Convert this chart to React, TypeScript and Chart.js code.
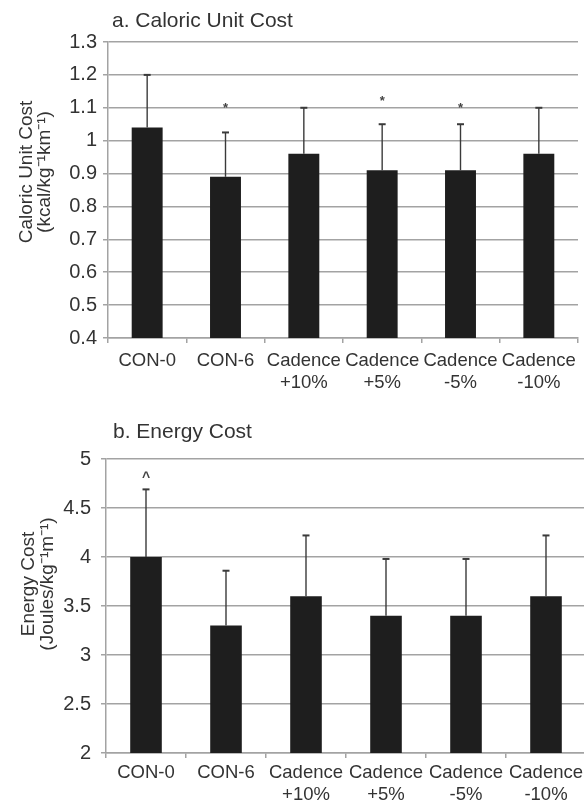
import React, { useEffect, useRef } from 'react';
import { Chart, registerables } from 'chart.js';

Chart.register(...registerables);

// ---- data ----
const categories: (string | string[])[] = ['CON-0', 'CON-6', ['Cadence', '+10%'], ['Cadence', '+5%'], ['Cadence', '-5%'], ['Cadence', '-10%']];

const caloricMeans = [1.04, 0.89, 0.96, 0.91, 0.91, 0.96];
const caloricSD = [0.16, 0.135, 0.14, 0.14, 0.14, 0.14];
const caloricMarks = [null, '*', null, '*', '*', null];
const caloricMarkY = [null, 1.11, null, 1.13, 1.11, null];
const caloricTicks = { min: 0.4, max: 1.3, step: 0.1 };

const energyMeans = [4.0, 3.3, 3.6, 3.4, 3.4, 3.6];
const energySD = [0.69, 0.56, 0.62, 0.58, 0.58, 0.62];
const energyMarks = ['^', null, null, null, null, null];
const energyMarkY = [4.84, null, null, null, null, null];
const energyTicks = { min: 2, max: 5, step: 0.5 };

const FONT = 'Arial, "Liberation Sans", Helvetica, sans-serif';
const TEXT = '#333333';
const GRID = '#a3a3a3';
const BAR = '#1e1e1e';

type PanelCfg = {
  title: string;
  titleX: number;
  titleBaseline: number;
  yTitle: string[];
  yTitleX: number[];
  yTitleY: number;
  means: number[];
  sd: number[];
  marks: (string | null)[];
  markY: (number | null)[];
  ticks: { min: number; max: number; step: number };
  width: number;
  height: number;
  padTop: number;
  padRight: number;
  yAxisWidth: number;
  xAxisHeight: number;
  xLabelPad: number;
  yLabelPad: number;
};

const overlayPlugin = {
  id: 'overlay',
  afterDatasetsDraw(chart: any, _args: any, opts: any) {
    const cfg: PanelCfg = opts.cfg;
    const ctx = chart.ctx;
    const x = chart.scales.x;
    const y = chart.scales.y;
    ctx.save();
    // error bars (upper only)
    ctx.strokeStyle = '#3a3a3a';
    cfg.means.forEach((m, i) => {
      const px = x.getPixelForValue(i);
      const top = y.getPixelForValue(m + cfg.sd[i]);
      const base = y.getPixelForValue(m);
      ctx.lineWidth = 1.4;
      ctx.beginPath();
      ctx.moveTo(px, base);
      ctx.lineTo(px, top);
      ctx.stroke();
      ctx.lineWidth = 2;
      ctx.beginPath();
      ctx.moveTo(px - 3.5, top);
      ctx.lineTo(px + 3.5, top);
      ctx.stroke();
    });
    // significance marks
    ctx.fillStyle = '#444444';
    ctx.textAlign = 'center';
    ctx.textBaseline = 'alphabetic';
    cfg.marks.forEach((mk, i) => {
      const v = cfg.markY[i];
      if (!mk || v == null) return;
      const px = x.getPixelForValue(i);
      const py = y.getPixelForValue(v);
      const size = mk === '*' ? 13 : 14;
      ctx.font = `bold ${size}px ${FONT}`;
      ctx.fillText(mk, px, py + size * 0.55);
    });
    ctx.restore();
  },
  afterDraw(chart: any, _args: any, opts: any) {
    const cfg: PanelCfg = opts.cfg;
    const ctx = chart.ctx;
    ctx.save();
    ctx.fillStyle = TEXT;
    ctx.font = `21px ${FONT}`;
    ctx.textAlign = 'left';
    ctx.textBaseline = 'alphabetic';
    ctx.fillText(cfg.title, cfg.titleX, cfg.titleBaseline);
    ctx.font = `19px ${FONT}`;
    ctx.textAlign = 'center';
    ctx.textBaseline = 'middle';
    cfg.yTitle.forEach((line, i) => {
      ctx.save();
      ctx.translate(cfg.yTitleX[i], cfg.yTitleY);
      ctx.rotate(-Math.PI / 2);
      ctx.fillText(line, 0, 0);
      ctx.restore();
    });
    ctx.restore();
  },
};

const fmtTick = (v: any) => String(Number(Number(v).toFixed(2)));

function Panel({ cfg, top }: { cfg: PanelCfg; top: number }) {
  const ref = useRef<HTMLCanvasElement>(null);
  useEffect(() => {
    if (!ref.current) return;
    const chart = new Chart(ref.current, {
      type: 'bar',
      data: {
        labels: categories as any,
        datasets: [
          {
            data: cfg.means,
            backgroundColor: BAR,
            borderWidth: 0,
            barPercentage: 0.395,
            categoryPercentage: 1,
          },
        ],
      },
      options: {
        responsive: false,
        animation: false,
        devicePixelRatio: 1,
        layout: { padding: { top: cfg.padTop, right: cfg.padRight, left: 0, bottom: 0 } },
        plugins: {
          legend: { display: false },
          title: { display: false },
          tooltip: { enabled: false },
          overlay: { cfg } as any,
        },
        scales: {
          x: {
            offset: true,
            grid: {
              display: true,
              drawOnChartArea: false,
              drawTicks: true,
              tickLength: 5,
              color: GRID,
              lineWidth: 1.5,
              offset: true,
            },
            border: { display: true, color: GRID, width: 1.5 },
            ticks: {
              color: TEXT,
              font: { family: FONT, size: 18.5, lineHeight: 1.2 },
              padding: cfg.xLabelPad,
              maxRotation: 0,
              autoSkip: false,
            },
            afterFit: (s: any) => {
              s.height = cfg.xAxisHeight;
            },
          },
          y: {
            min: cfg.ticks.min,
            max: cfg.ticks.max,
            grid: {
              color: GRID,
              lineWidth: 1.5,
              drawTicks: true,
              tickLength: 5,
            },
            border: { display: true, color: GRID, width: 1.5 },
            ticks: {
              stepSize: cfg.ticks.step,
              color: TEXT,
              font: { family: FONT, size: 20 },
              padding: cfg.yLabelPad,
              callback: fmtTick,
            },
            afterFit: (s: any) => {
              s.width = cfg.yAxisWidth;
            },
          },
        },
      },
      plugins: [overlayPlugin as any],
    });
    return () => chart.destroy();
  }, [cfg]);
  return (
    <canvas
      ref={ref}
      width={cfg.width}
      height={cfg.height}
      style={{ position: 'absolute', left: 0, top, width: cfg.width, height: cfg.height }}
    />
  );
}

const topCfg: PanelCfg = {
  title: 'a. Caloric Unit Cost',
  titleX: 112,
  titleBaseline: 27,
  yTitle: ['Caloric Unit Cost', '(kcal/kg\u207B\u00B9km\u207B\u00B9)'],
  yTitleX: [27, 45],
  yTitleY: 172,
  means: caloricMeans,
  sd: caloricSD,
  marks: caloricMarks,
  markY: caloricMarkY,
  ticks: caloricTicks,
  width: 584,
  height: 400,
  padTop: 42,
  padRight: 6,
  yAxisWidth: 108,
  xAxisHeight: 62,
  xLabelPad: 7,
  yLabelPad: 6,
};

const bottomCfg: PanelCfg = {
  title: 'b. Energy Cost',
  titleX: 113,
  titleBaseline: 38,
  yTitle: ['Energy Cost', '(Joules/kg\u207B\u00B9m\u207B\u00B9)'],
  yTitleX: [29, 48],
  yTitleY: 184,
  means: energyMeans,
  sd: energySD,
  marks: energyMarks,
  markY: energyMarkY,
  ticks: energyTicks,
  width: 590,
  height: 404,
  padTop: 59,
  padRight: 4,
  yAxisWidth: 106,
  xAxisHeight: 51,
  xLabelPad: 4,
  yLabelPad: 10,
};

export default function App() {
  return (
    <div
      style={{
        position: 'absolute',
        left: 0,
        top: 0,
        width: 584,
        height: 804,
        overflow: 'hidden',
        background: '#ffffff',
      }}
    >
      <Panel cfg={topCfg} top={0} />
      <Panel cfg={bottomCfg} top={400} />
    </div>
  );
}
